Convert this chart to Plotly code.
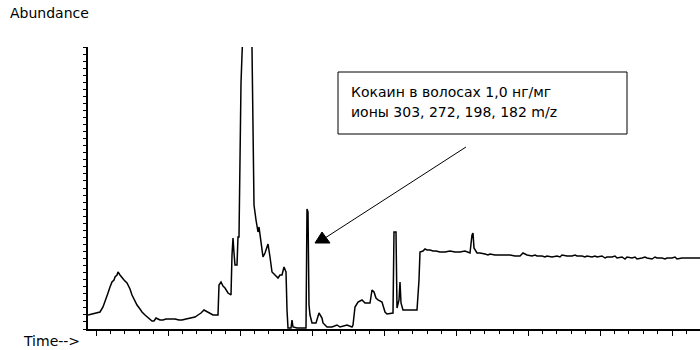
import plotly.graph_objects as go

# Retention time (s) and abundance (thousand counts)
time_s = [112, 116, 120, 124, 127, 129, 132, 134, 136, 138, 139, 141, 142, 144, 146, 148, 151, 154, 156, 159,
          161, 164, 166, 169, 171, 174, 176, 178, 180, 182, 184, 187, 190, 194, 199, 203, 206, 210, 214, 219,
          222, 225, 228, 230, 232, 235, 237, 240, 242, 243, 245, 247, 249, 252, 255, 256, 257, 258, 259, 261,
          262, 263, 264, 265, 266, 269, 273, 275, 276, 277, 278, 280, 282, 283, 285, 287, 289, 292, 294, 296,
          299, 302, 304, 306, 308, 310, 311, 312, 315, 316, 317, 321, 330, 331, 332, 333, 334, 336, 340, 343,
          346, 347, 351, 356, 361, 364, 371, 376, 377, 379, 382, 386, 389, 394, 396, 398, 400, 402, 406, 409,
          411, 417, 418, 420, 421, 423, 424, 425, 427, 441, 443, 444, 447, 449, 451, 454, 457, 460, 464, 469,
          474, 479, 484, 489, 494, 495, 496, 497, 498, 501, 504, 509, 512, 514, 519, 524, 529, 534, 539, 544,
          547, 551, 556, 559, 561, 566, 569, 571, 576, 581, 584, 586, 591, 596, 599, 601, 606, 609, 611, 616,
          619, 621, 626, 629, 631, 636, 639, 641, 646, 649, 651, 656, 659, 661, 666, 669, 671, 676, 679, 681,
          686, 689, 691, 696, 699, 701, 706, 711, 716, 722, 724]
abundance_k = [14, 15, 16, 17, 22, 27, 36, 42, 47, 49, 52, 54, 57, 54, 51, 49, 46, 40, 34, 28,
               24, 20, 17, 14, 12, 9, 8, 8, 11, 10, 9, 9, 10, 10, 10, 9, 9, 10, 11, 12,
               14, 16, 19, 18, 17, 15, 14, 14, 14, 44, 47, 43, 41, 36, 34, 74, 91, 76, 64, 64,
               92, 92, 194, 246, 274, 429, 449, 359, 284, 217, 124, 109, 97, 102, 89, 72, 76, 85, 72, 57,
               54, 51, 54, 54, 62, 57, 19, 1, 1, 9, 2, 1, 1, 120, 117, 24, 14, 6, 6, 16,
               11, 6, 2, 2, 4, 2, 4, 2, 4, 22, 27, 29, 26, 26, 39, 37, 31, 29, 27, 17,
               15, 16, 97, 97, 21, 29, 47, 26, 19, 19, 49, 77, 78, 80, 79, 79, 78, 78, 77, 77,
               78, 77, 77, 78, 76, 89, 94, 96, 81, 76, 76, 75, 74, 75, 74, 74, 74, 74, 73, 73,
               76, 74, 73, 74, 73, 73, 72, 73, 72, 73, 72, 74, 73, 73, 74, 73, 73, 72, 73, 72,
               73, 72, 73, 71, 72, 72, 73, 71, 72, 70, 72, 71, 72, 70, 71, 72, 71, 70, 72, 71,
               71, 70, 71, 71, 72, 70, 71, 71, 71, 71, 71]

label_line1 = "Кокаин в волосах 1,0 нг/мг"
label_line2 = "ионы 303, 272, 198, 182 m/z"

FONT = "DejaVu Sans"

fig = go.Figure()
fig.add_trace(go.Scatter(x=time_s, y=abundance_k, mode="lines",
                         line=dict(color="black", width=1.5), hoverinfo="skip", showlegend=False))

fig.update_layout(
    width=700, height=350,
    margin=dict(l=88, r=0, t=47, b=21),
    paper_bgcolor="white", plot_bgcolor="white",
    xaxis=dict(range=[112, 724], showgrid=False, zeroline=False, showline=True,
               linecolor="black", linewidth=1.5, ticks="outside", ticklen=5, tickcolor="black",
               tick0=120, dtick=72, showticklabels=False,
               minor=dict(ticks="outside", ticklen=3, dtick=14.4, tick0=120, tickcolor="black")),
    yaxis=dict(range=[0, 282], showgrid=False, zeroline=False, showline=True,
               linecolor="black", linewidth=1.5, ticks="outside", ticklen=3, tickcolor="black",
               tick0=0, dtick=7.05, showticklabels=False),
)

# callout box, arrow and arrowhead
fig.add_shape(type="rect", x0=362, x1=651, y0=195, y1=257, xref="x", yref="y",
              line=dict(color="black", width=1), fillcolor="white")
fig.add_shape(type="line", x0=490, y0=182, x1=349, y1=91, xref="x", yref="y",
              line=dict(color="black", width=1))
fig.add_shape(type="path", path="M 339 86 L 354 86 L 346 97 Z", xref="x", yref="y",
              line=dict(color="black", width=1), fillcolor="black")

fig.add_annotation(x=373, y=237, xref="x", yref="y", text=label_line1, showarrow=False,
                   xanchor="left", yanchor="middle", font=dict(family=FONT, size=14, color="black"))
fig.add_annotation(x=373, y=217, xref="x", yref="y", text=label_line2, showarrow=False,
                   xanchor="left", yanchor="middle", font=dict(family=FONT, size=14, color="black"))

fig.add_annotation(x=8, y=13, xref="paper", yref="paper", text="Abundance", showarrow=False,
                   xanchor="left", yanchor="middle", font=dict(family=FONT, size=14, color="black"))
fig.add_annotation(x=21, y=341, xref="paper", yref="paper", text="Time-->", showarrow=False,
                   xanchor="left", yanchor="middle", font=dict(family=FONT, size=14, color="black"))

# convert pixel-based label positions to paper coordinates
for ann in fig.layout.annotations:
    if ann.xref == "paper":
        ann.x = (ann.x - 88) / 612
        ann.y = (329 - ann.y) / 282

fig.write_html("out.html", config={"displayModeBar": False},
               post_script="document.body.style.margin='0';document.body.style.overflow='hidden';")
